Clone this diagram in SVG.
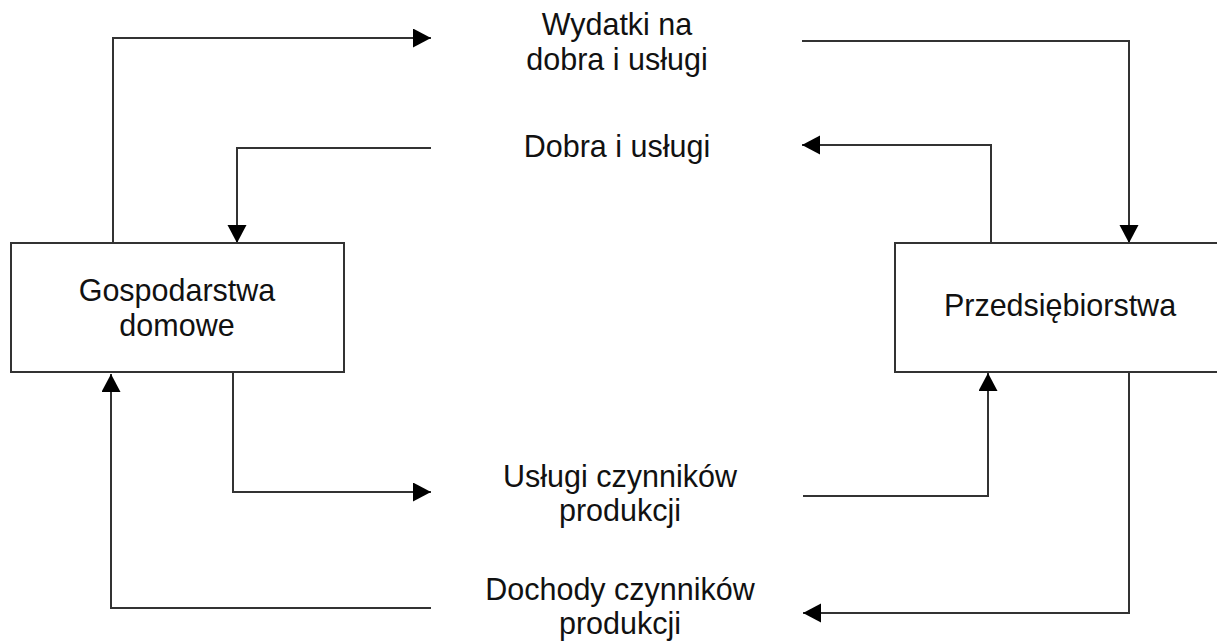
<svg xmlns="http://www.w3.org/2000/svg" width="1217" height="641" viewBox="0 0 1217 641">
<style>
.box{fill:#fff;stroke:#333;stroke-width:2}
.conn{fill:none;stroke:#333;stroke-width:2}
text{font-family:"Liberation Sans",Arial,sans-serif;font-size:30.5px;fill:#111;text-anchor:middle}
</style>
<defs>
<marker id="arr" markerUnits="userSpaceOnUse" markerWidth="19" markerHeight="20" refX="18" refY="9.5" orient="auto">
<path d="M0,0 L18,9.5 L0,19 z" fill="#000"/>
</marker>
</defs>
<rect width="1217" height="641" fill="#fff"/>
<g id="connectors">
<path class="conn" d="M113,243 V38 H431" marker-end="url(#arr)"/>
<path class="conn" d="M431,148 H237 V243" marker-end="url(#arr)"/>
<path class="conn" d="M802,41 H1129 V243" marker-end="url(#arr)"/>
<path class="conn" d="M991,243 V145 H802" marker-end="url(#arr)"/>
<path class="conn" d="M233,372 V492 H431" marker-end="url(#arr)"/>
<path class="conn" d="M431,608 H111 V374" marker-end="url(#arr)"/>
<path class="conn" d="M803,496 H988 V373" marker-end="url(#arr)"/>
<path class="conn" d="M1129,372 V613 H803" marker-end="url(#arr)"/>
</g>
<g id="gospodarstwa">
<rect class="box" x="11" y="243" width="333" height="129"/>
<text x="177" y="301">Gospodarstwa</text>
<text x="177" y="336">domowe</text>
</g>
<g id="przedsiebiorstwa">
<rect class="box" x="895" y="243" width="330" height="129"/>
<text x="1060" y="316">Przedsiębiorstwa</text>
</g>
<g id="label-wydatki">
<text x="617" y="35">Wydatki na</text>
<text x="617" y="70">dobra i usługi</text>
</g>
<g id="label-dobra">
<text x="617" y="157">Dobra i usługi</text>
</g>
<g id="label-uslugi">
<text x="620" y="487">Usługi czynników</text>
<text x="620" y="521">produkcji</text>
</g>
<g id="label-dochody">
<text x="620" y="600">Dochody czynników</text>
<text x="620" y="634">produkcji</text>
</g>
</svg>
